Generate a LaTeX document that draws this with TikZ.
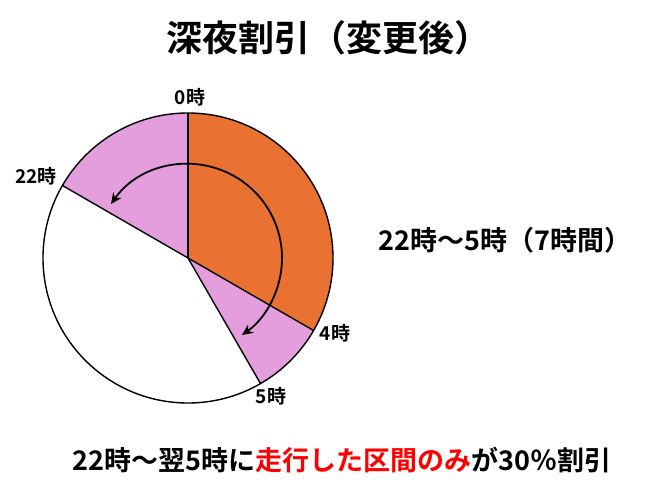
\documentclass[tikz,border=0pt]{standalone}
\usepackage{fontspec}
\newfontfamily\jp{Noto Sans CJK JP Bold}
\usetikzlibrary{arrows.meta}
\definecolor{orng}{HTML}{E97132}
\definecolor{pnk}{HTML}{E59EDD}
\begin{document}
\begin{tikzpicture}[x=1pt,y=-1pt,
  seg/.style={draw=black,line width=1.4pt,line join=round},
  lbl/.style={font=\jp\fontsize{19}{21}\selectfont,inner sep=0pt},
  dirarc/.style={draw=black,line width=1.8pt,{Stealth[length=11pt,width=10pt]}-{Stealth[length=11pt,width=10pt]}}]
\useasboundingbox (0,0) rectangle (670,496);
\fill[white] (0,0) rectangle (670,496);
\coordinate (c) at (188,258);
\fill[pnk] (c) -- ++(-90:145) arc[start angle=-90,end angle=-150,radius=145] -- cycle;
\fill[orng] (c) -- ++(-90:145) arc[start angle=-90,end angle=30,radius=145] -- cycle;
\fill[pnk] (c) -- ++(30:145) arc[start angle=30,end angle=60,radius=145] -- cycle;
\draw[seg] (c) circle[radius=145];
\draw[seg] (c) -- ++(-90:145);
\draw[seg] (c) -- ++(-150:145);
\draw[seg] (c) -- ++(30:145);
\draw[seg] (c) -- ++(60:145);
\draw[dirarc] (c) ++(-145:94) arc[start angle=-145,end angle=55,radius=94];
\node[lbl] (l0) at (190,97) {0時};
\node[lbl] (l22) at (36,176) {22時};
\node[lbl] (l4) at (335,333) {4時};
\node[lbl] (l5) at (271,396) {5時};
\node[font=\jp\fontsize{36}{40}\selectfont,inner sep=0pt] (title) at (328,38) {深夜割引（変更後）};
\node[font=\jp\fontsize{27}{30}\selectfont,inner sep=0pt] (range) at (505,240) {22時〜5時（7時間）};
\node[font=\jp\fontsize{27}{30}\selectfont,inner sep=0pt] (note) at (342,460) {22時〜翌5時に\textcolor{red}{走行した区間のみ}が30％割引};
\end{tikzpicture}
\end{document}
